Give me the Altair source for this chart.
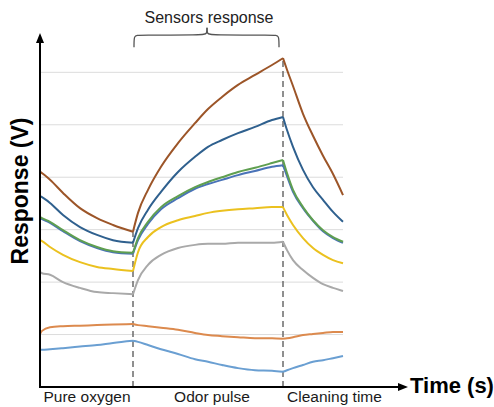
import altair as alt
import pandas as pd

# ---------------- data ----------------
TIME = [0, 2, 10, 23, 40, 57, 73, 93,
        98, 108, 121, 138, 155, 168, 182, 198, 215, 232, 243,
        247, 253, 263, 273, 283, 293, 303]

SERIES = ["Light blue", "Orange", "Gray", "Yellow", "Steel blue", "Green", "Dark blue", "Brown"]
COLORS = ["#6a9fd2", "#dc8a4e", "#a9a9a9", "#ebc11f", "#4a73b8", "#5f9f50", "#2f608e", "#9c5528"]

brown = [4.10, 4.08, 3.95, 3.70, 3.41, 3.22, 3.09, 2.96,
         3.32, 3.76, 4.20, 4.65, 5.03, 5.30, 5.53, 5.76, 5.95, 6.14, 6.27,
         6.05, 5.74, 5.21, 4.79, 4.41, 4.06, 3.66]
dark_blue = [3.64, 3.62, 3.51, 3.28, 3.05, 2.90, 2.80, 2.75,
             3.03, 3.38, 3.72, 4.10, 4.39, 4.58, 4.71, 4.84, 4.96, 5.09, 5.15,
             4.90, 4.58, 4.14, 3.81, 3.57, 3.34, 3.15]
green = [3.24, 3.22, 3.15, 2.99, 2.80, 2.67, 2.59, 2.56,
         2.84, 3.15, 3.43, 3.64, 3.81, 3.91, 4.00, 4.10, 4.18, 4.27, 4.33,
         4.08, 3.76, 3.43, 3.18, 2.99, 2.86, 2.77]
steel_blue = [3.22, 3.20, 3.13, 2.97, 2.78, 2.65, 2.57, 2.54,
              2.80, 3.11, 3.39, 3.60, 3.78, 3.87, 3.95, 4.04, 4.12, 4.20, 4.23,
              4.02, 3.72, 3.41, 3.17, 2.97, 2.84, 2.75]
yellow = [2.80, 2.78, 2.67, 2.52, 2.38, 2.29, 2.25, 2.21,
          2.57, 2.86, 3.05, 3.18, 3.26, 3.32, 3.36, 3.39, 3.41, 3.43, 3.43,
          3.28, 3.09, 2.84, 2.65, 2.52, 2.42, 2.36]
gray = [2.19, 2.17, 2.14, 2.00, 1.89, 1.81, 1.79, 1.77,
        2.04, 2.33, 2.52, 2.65, 2.71, 2.73, 2.73, 2.75, 2.75, 2.75, 2.77,
        2.61, 2.42, 2.23, 2.08, 1.96, 1.89, 1.83]
orange = [1.01, 1.07, 1.14, 1.16, 1.17, 1.18, 1.19, 1.20,
          1.18, 1.16, 1.13, 1.09, 1.03, 0.99, 0.97, 0.95, 0.93, 0.93, 0.92,
          0.93, 0.95, 0.99, 1.01, 1.03, 1.05, 1.05]
light_blue = [0.71, 0.71, 0.72, 0.74, 0.77, 0.80, 0.84, 0.88,
              0.86, 0.80, 0.72, 0.63, 0.53, 0.48, 0.42, 0.36, 0.32, 0.31, 0.29,
              0.32, 0.36, 0.42, 0.48, 0.51, 0.55, 0.59]

VALUES = [light_blue, orange, gray, yellow, steel_blue, green, dark_blue, brown]

# phases: index ranges into TIME (inclusive)
PHASES = ["oxygen", "odor", "cleaning"]
PHASE_START_IDX = [0, 7, 18]
PHASE_END_IDX = [7, 18, 25]
BOUNDARY_IDX = [7, 18]

PHASE_LABELS = ["Pure oxygen", "Odor pulse", "Cleaning time"]
PHASE_LABEL_T = [47, 172, 294.5]

GRID_V = [1, 2, 3, 4, 5, 6]
GRID_T_END = 303

BRACKET_LEFT_T = [94, 94, 98, 163, 167, 167]
BRACKET_LEFT_V = [6.48, 6.71, 6.71, 6.71, 6.73, 6.85]
BRACKET_RIGHT_T = [167, 167, 171, 235, 239, 239]
BRACKET_RIGHT_V = [6.85, 6.73, 6.71, 6.71, 6.71, 6.48]

# ---------------- tables ----------------
rows = []
for name, vals in zip(SERIES, VALUES):
    for ph, s, e in zip(PHASES, PHASE_START_IDX, PHASE_END_IDX):
        for i in range(s, e + 1):
            rows.append({"series": name, "seg": name + "-" + ph, "t": TIME[i], "v": vals[i]})
df = pd.DataFrame(rows)

dash_df = pd.DataFrame({
    "t": [TIME[i] for i in BOUNDARY_IDX],
    "top": [max(v[i] for v in VALUES) for i in BOUNDARY_IDX],
    "zero": [0, 0],
})
grid_df = pd.DataFrame({"v": GRID_V, "t0": [0] * len(GRID_V), "t1": [GRID_T_END] * len(GRID_V)})
label_df = pd.DataFrame({"t": PHASE_LABEL_T, "label": PHASE_LABELS})
bracket_df = pd.DataFrame({
    "t": BRACKET_LEFT_T + BRACKET_RIGHT_T,
    "v": BRACKET_LEFT_V + BRACKET_RIGHT_V,
    "part": ["L"] * len(BRACKET_LEFT_T) + ["R"] * len(BRACKET_RIGHT_T),
    "k": list(range(len(BRACKET_LEFT_T))) + list(range(len(BRACKET_RIGHT_T))),
})
one = pd.DataFrame({"a": [0]})

FONT = "Liberation Sans"
xs = alt.Scale(domain=[0, 368], nice=False, zero=False)
ys = alt.Scale(domain=[0, 6.75], nice=False, zero=False)
X = lambda f: alt.X(f, type="quantitative", scale=xs, axis=None)
Y = lambda f: alt.Y(f, type="quantitative", scale=ys, axis=None)

grid = alt.Chart(grid_df).mark_rule(color="#dcdcdc", strokeWidth=1).encode(
    x=X("t0"), x2="t1", y=Y("v"))

dashes = alt.Chart(dash_df).mark_rule(color="#6b6b6b", strokeWidth=1.5, strokeDash=[6, 4]).encode(
    x=X("t"), y=Y("zero"), y2="top")

lines = alt.Chart(df).mark_line(interpolate="monotone", strokeWidth=2).encode(
    x=X("t"), y=Y("v"),
    color=alt.Color("series:N", scale=alt.Scale(domain=SERIES, range=COLORS), legend=None),
    detail="seg:N",
    order="t:Q",
)

bracket = alt.Chart(bracket_df).mark_line(interpolate="basis", color="#555555", strokeWidth=1.3).encode(
    x=X("t"), y=Y("v"), detail="part:N", order="k:Q")

bracket_text = alt.Chart(one).mark_text(
    text="Sensors response", font=FONT, fontSize=16, color="#222222", align="center", baseline="alphabetic"
).encode(x=alt.value(169), y=alt.value(-10))

phase_text = alt.Chart(label_df).mark_text(
    font=FONT, fontSize=15.5, color="#1a1a1a", align="center", baseline="alphabetic"
).encode(x=X("t"), y=alt.value(369), text="label:N")

y_axis = alt.Chart(one).mark_rule(color="black", strokeWidth=2).encode(
    x=alt.value(0), y=alt.value(355), y2=alt.value(8))
x_axis = alt.Chart(one).mark_rule(color="black", strokeWidth=2).encode(
    x=alt.value(-1), x2=alt.value(360), y=alt.value(354))
y_arrow = alt.Chart(one).mark_point(
    shape="M0,-1L0.8,1L-0.8,1Z", filled=True, size=100, color="black", opacity=1, strokeWidth=0
).encode(x=alt.value(0), y=alt.value(5))
x_arrow = alt.Chart(one).mark_point(
    shape="M1,0L-1,0.8L-1,-0.8Z", filled=True, size=100, color="black", opacity=1, strokeWidth=0
).encode(x=alt.value(363), y=alt.value(354))

x_title = alt.Chart(one).mark_text(
    text="Time (s)", font=FONT, fontSize=22, fontWeight="bold", color="black", align="left", baseline="alphabetic"
).encode(x=alt.value(370), y=alt.value(360))
y_title = alt.Chart(one).mark_text(
    text="Response (V)", font=FONT, fontSize=23, fontWeight="bold", color="black", angle=270,
    align="center", baseline="middle"
).encode(x=alt.value(-19), y=alt.value(158))

chart = alt.layer(
    grid, dashes, lines, bracket, bracket_text, phase_text,
    y_axis, x_axis, y_arrow, x_arrow, x_title, y_title
).properties(
    width=368, height=354,
    autosize=alt.AutoSizeParams(type="none"),
    padding={"left": 40, "top": 33, "right": 86, "bottom": 20},
    background="white",
).configure_view(stroke=None)

chart.save("out.html", embed_options={"renderer": "svg", "actions": False})
